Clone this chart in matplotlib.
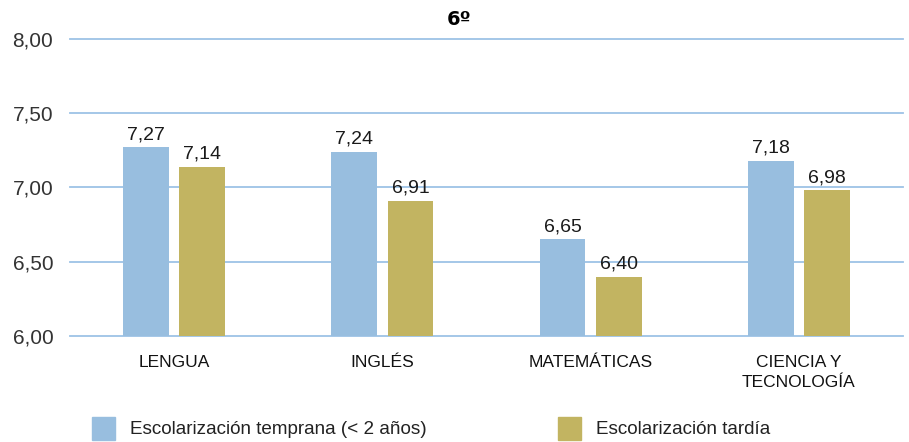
import numpy as np
import matplotlib
matplotlib.use("Agg")
import matplotlib.pyplot as plt
from matplotlib import font_manager
from matplotlib.patches import Rectangle

# pick a condensed font if available
names = {f.name for f in font_manager.fontManager.ttflist}
font = "Liberation Sans Narrow" if "Liberation Sans Narrow" in names else "Liberation Sans"
plt.rcParams["font.family"] = [font, "DejaVu Sans"]

categories = ["LENGUA", "INGLÉS", "MATEMÁTICAS", "CIENCIA Y\nTECNOLOGÍA"]
temprana = [7.27, 7.24, 6.65, 7.18]
tardia = [7.14, 6.91, 6.40, 6.98]
series_names = ["Escolarización temprana (< 2 años)", "Escolarización tardía"]
yticks = [6.00, 6.50, 7.00, 7.50, 8.00]

blue = "#98bedf"
gold = "#c2b461"
grid = "#9dc3e6"

fig = plt.figure(figsize=(9.09, 4.42), dpi=100)
ax = fig.add_axes([0.077, 0.2398, 0.9164, 0.672])

x = np.arange(len(categories))
w = 0.22
off = 0.135
b1 = ax.bar(x - off, np.array(temprana) - 6, w, bottom=6, color=blue, zorder=3)
b2 = ax.bar(x + off, np.array(tardia) - 6, w, bottom=6, color=gold, zorder=3)

for bars, vals in [(b1, temprana), (b2, tardia)]:
    for r, v in zip(bars, vals):
        ax.annotate(f"{v:.2f}".replace(".", ","), (r.get_x() + r.get_width() / 2, v),
                    xytext=(0, 3), textcoords="offset points", ha="center", va="bottom",
                    fontsize=14, color="#1a1a1a")

ax.set_xlim(-0.5, 3.5)
ax.set_ylim(6, 8)
ax.set_yticks(yticks)
ax.set_yticklabels([f"{t:.2f}".replace(".", ",") for t in yticks], fontsize=15, color="#333333")
ax.yaxis.grid(True, color=grid, linewidth=1.3, zorder=0)
for gl in ax.get_ygridlines():
    gl.set_clip_on(False)
ax.set_xticks(x)
ax.set_xticklabels(categories, fontsize=12.5, color="#111111", linespacing=1.35)
ax.tick_params(axis="both", length=0)
ax.tick_params(axis="y", pad=12)
ax.tick_params(axis="x", pad=14)
for s in ax.spines.values():
    s.set_visible(False)

fig.text(0.505, 0.955, "6º", ha="center", va="center", fontsize=14, fontweight="bold",
         family="DejaVu Sans")

# legend
for (xp, col, name) in [(92, blue, series_names[0]), (558, gold, series_names[1])]:
    fig.patches.append(Rectangle((xp / 909, 1 - 440 / 442), 23 / 909, 23 / 442,
                                 transform=fig.transFigure, color=col, figure=fig))
    fig.text((xp + 38) / 909, 1 - 429 / 442, name, ha="left", va="center",
             fontsize=13.6, color="#222222")

fig.savefig("out.png", dpi=100)
